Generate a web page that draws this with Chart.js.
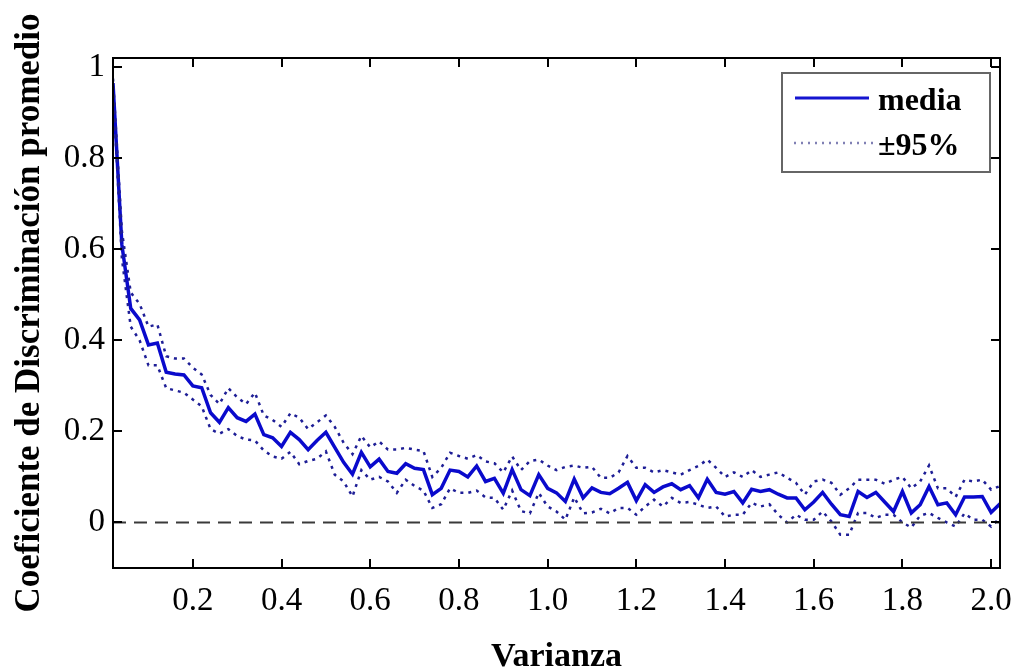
<!DOCTYPE html>
<html>
<head>
<meta charset="utf-8">
<script src="https://cdn.jsdelivr.net/npm/chart.js@4.4.0/dist/chart.umd.min.js"></script>
<style>
html,body{margin:0;padding:0;background:#fff}
#wrap{width:1029px;height:668px}
</style>
</head>
<body>
<div id="wrap"><canvas id="grafico" width="1029" height="668"></canvas></div>
<script>
// eje x: varianza
varianza = [0.02,0.04,0.06,0.08,0.10,0.12,0.14,0.16,0.18,0.20,
            0.22,0.24,0.26,0.28,0.30,0.32,0.34,0.36,0.38,0.40,
            0.42,0.44,0.46,0.48,0.50,0.52,0.54,0.56,0.58,0.60,
            0.62,0.64,0.66,0.68,0.70,0.72,0.74,0.76,0.78,0.80,
            0.82,0.84,0.86,0.88,0.90,0.92,0.94,0.96,0.98,1.00,
            1.02,1.04,1.06,1.08,1.10,1.12,1.14,1.16,1.18,1.20,
            1.22,1.24,1.26,1.28,1.30,1.32,1.34,1.36,1.38,1.40,
            1.42,1.44,1.46,1.48,1.50,1.52,1.54,1.56,1.58,1.60,
            1.62,1.64,1.66,1.68,1.70,1.72,1.74,1.76,1.78,1.80,
            1.82,1.84,1.86,1.88,1.90,1.92,1.94,1.96,1.98,2.00,
            2.02]

media = [0.965,0.61,0.47,0.445,0.39,0.394,0.33,0.326,0.324,0.30,
         0.296,0.241,0.22,0.252,0.23,0.222,0.238,0.193,0.186,0.167,
         0.198,0.182,0.16,0.18,0.198,0.165,0.132,0.106,0.154,0.122,
         0.139,0.112,0.108,0.129,0.119,0.116,0.061,0.075,0.115,0.112,
         0.100,0.124,0.090,0.097,0.064,0.116,0.072,0.059,0.105,0.075,
         0.065,0.046,0.095,0.054,0.076,0.066,0.063,0.075,0.088,0.048,
         0.083,0.066,0.078,0.085,0.072,0.081,0.054,0.095,0.066,0.062,
         0.068,0.043,0.073,0.068,0.072,0.062,0.054,0.054,0.028,0.045,
         0.066,0.040,0.017,0.013,0.068,0.055,0.066,0.045,0.024,0.068,
         0.021,0.039,0.079,0.039,0.043,0.017,0.056,0.056,0.057,0.022,
         0.041]

// limites +-95%
sup = [0.975,0.64,0.505,0.48,0.43,0.435,0.365,0.36,0.36,0.34,
       0.325,0.28,0.26,0.295,0.275,0.26,0.285,0.235,0.225,0.21,
       0.24,0.23,0.205,0.22,0.235,0.21,0.175,0.15,0.19,0.165,
       0.178,0.16,0.16,0.164,0.16,0.157,0.10,0.12,0.153,0.146,
       0.14,0.148,0.134,0.13,0.11,0.145,0.115,0.135,0.138,0.125,
       0.115,0.122,0.125,0.12,0.122,0.098,0.098,0.11,0.146,0.12,
       0.12,0.11,0.115,0.11,0.105,0.115,0.124,0.138,0.12,0.1,
       0.11,0.1,0.115,0.1,0.105,0.11,0.098,0.087,0.061,0.09,
       0.094,0.087,0.061,0.075,0.094,0.094,0.094,0.085,0.094,0.1,
       0.075,0.09,0.125,0.075,0.075,0.056,0.094,0.09,0.094,0.072,
       0.08]

inf = [0.955,0.58,0.43,0.40,0.345,0.345,0.295,0.29,0.285,0.27,
       0.255,0.205,0.195,0.205,0.19,0.182,0.18,0.158,0.145,0.14,
       0.155,0.128,0.135,0.14,0.156,0.105,0.09,0.057,0.115,0.094,
       0.1,0.09,0.065,0.094,0.08,0.07,0.032,0.04,0.075,0.065,
       0.065,0.07,0.055,0.054,0.028,0.07,0.025,0.02,0.065,0.035,
       0.024,0.006,0.055,0.02,0.022,0.03,0.02,0.032,0.032,0.017,
       0.035,0.05,0.035,0.054,0.043,0.045,0.039,0.032,0.035,0.013,
       0.017,0.017,0.043,0.035,0.04,0.017,0.0,0.017,0.006,0.006,
       0.024,0.002,-0.027,-0.027,0.021,0.021,0.01,0.017,0.017,0.0,
       -0.011,0.015,0.021,0.01,0.0,-0.009,0.02,0.006,0.006,-0.009,
       0.01]

ceroX = [0.02,2.02]
ceroY = [0,0]

xTicks = [0.2,0.4,0.6,0.8,1.0,1.2,1.4,1.6,1.8,2.0]
yTicks = [0,0.2,0.4,0.6,0.8,1]

etiquetas = ["media","\u00b195%"]

function pts(xs,ys){
    out=[]
    for(i=0;i<xs.length;i++) out.push({x:xs[i],y:ys[i]})
    return out
}

// marco estilo matlab: caja, marcas hacia dentro y leyenda
marco = {
    id:'marco',
    afterDraw(chart){
        c=chart.ctx
        a=chart.chartArea
        sx=chart.scales.x
        sy=chart.scales.y
        c.save()
        c.strokeStyle='#000'
        c.lineWidth=2
        c.beginPath()
        xTicks.forEach(v=>{
            p=Math.round(sx.getPixelForValue(v))
            c.moveTo(p,a.bottom); c.lineTo(p,a.bottom-9)
            c.moveTo(p,a.top); c.lineTo(p,a.top+9)
        })
        yTicks.forEach(v=>{
            p=Math.round(sy.getPixelForValue(v))
            c.moveTo(a.left,p); c.lineTo(a.left+9,p)
            c.moveTo(a.right,p); c.lineTo(a.right-9,p)
        })
        c.stroke()
        c.strokeRect(a.left,a.top,a.right-a.left,a.bottom-a.top)

        // leyenda
        lx=782; ly=73; lw=208; lh=99
        c.fillStyle='#fff'
        c.fillRect(lx,ly,lw,lh)
        c.strokeStyle='#666'
        c.lineWidth=2
        c.strokeRect(lx,ly,lw,lh)
        c.strokeStyle='#1515d0'
        c.lineWidth=3
        c.beginPath(); c.moveTo(795,98); c.lineTo(869,98); c.stroke()
        c.strokeStyle='#8080b4'
        c.lineWidth=2.5
        c.setLineDash([2,5])
        c.beginPath(); c.moveTo(794,143); c.lineTo(874,143); c.stroke()
        c.setLineDash([])
        c.fillStyle='#000'
        c.font='bold 32px "Liberation Serif"'
        c.textBaseline='alphabetic'
        c.fillText(etiquetas[0],878,110)
        c.fillText(etiquetas[1],878,155)
        c.restore()
    }
}

ctx = document.getElementById('grafico').getContext('2d')
chart = new Chart(ctx,{
    type:'line',
    data:{
        datasets:[
            {label:'cero',data:pts(ceroX,ceroY),borderColor:'#3a3a3a',borderWidth:2,borderDash:[13,8],pointRadius:0},
            {label:'sup',data:pts(varianza,sup),borderColor:'#1e1e96',borderWidth:2.5,borderDash:[3,5],pointRadius:0,tension:0},
            {label:'inf',data:pts(varianza,inf),borderColor:'#1e1e96',borderWidth:2.5,borderDash:[3,5],pointRadius:0,tension:0},
            {label:'media',data:pts(varianza,media),borderColor:'#0a0acc',borderWidth:3.5,pointRadius:0,tension:0}
        ]
    },
    options:{
        responsive:false,
        animation:false,
        devicePixelRatio:1,
        layout:{padding:{top:58,right:29,left:0,bottom:0}},
        plugins:{legend:{display:false},tooltip:{enabled:false}},
        scales:{
            x:{
                type:'linear',min:0.02,max:2.02,
                grid:{display:false,drawTicks:false},
                border:{display:false},
                afterBuildTicks:s=>{s.ticks=xTicks.map(v=>({value:v}))},
                afterFit:s=>{s.height=100},
                ticks:{padding:14,color:'#000',maxRotation:0,font:{family:'"Liberation Serif"',size:33},
                       callback:v=>v.toFixed(1)},
                title:{display:true,text:'Varianza',color:'#000',padding:{top:0,bottom:-6},
                       font:{family:'"Liberation Serif"',size:34,weight:'bold',lineHeight:1}}
            },
            y:{
                min:-0.1,max:1.02,
                grid:{display:false,drawTicks:false},
                border:{display:false},
                afterBuildTicks:s=>{s.ticks=yTicks.map(v=>({value:v}))},
                afterFit:s=>{s.width=113},
                ticks:{padding:8,color:'#000',font:{family:'"Liberation Serif"',size:33},
                       callback:v=>String(Math.round(v*10)/10)},
                title:{display:true,text:'Coeficiente de Discriminación promedio',color:'#000',padding:{top:9,bottom:0},
                       font:{family:'"Liberation Serif"',size:35,weight:'bold'}}
            }
        }
    },
    plugins:[marco]
})
</script>
</body>
</html>
